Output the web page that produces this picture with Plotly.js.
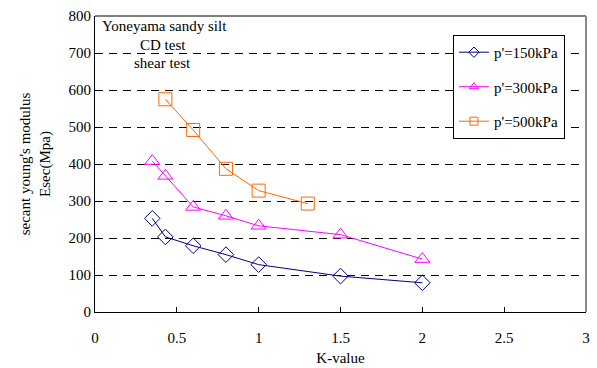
<!DOCTYPE html>
<html><head><meta charset="utf-8">
<script src="https://cdn.plot.ly/plotly-3.0.1.min.js"></script>
<style>html,body{margin:0;padding:0;background:#fff}#c{width:597px;height:368px}</style>
</head><body><div id="c"></div>
<script>
const k150 = [0.35, 0.43, 0.6, 0.8, 1.0, 1.5, 2.0];
const e150 = [253, 203, 179, 155, 128, 97, 79];
const k300 = [0.35, 0.43, 0.6, 0.8, 1.0, 1.5, 2.0];
const e300 = [408, 368, 284, 260, 233, 209, 143];
const k500 = [0.43, 0.6, 0.8, 1.0, 1.3];
const e500 = [575, 492, 387, 328, 293];
const names = ["p'=150kPa", "p'=300kPa", "p'=500kPa"];
const colors = ["#000080", "#FF00FF", "#FF6600"];
const symbols = ["diamond-open", "triangle-up-open", "square-open"];
const xTicks = [0, 0.5, 1, 1.5, 2, 2.5, 3];
const xTickText = ["0", "0.5", "1", "1.5", "2", "2.5", "3"];
const yTicks = [0, 100, 200, 300, 400, 500, 600, 700, 800];

const F = "'Liberation Serif', 'Times New Roman', serif";
const FS = 15;
const xs = [k150, k300, k500], ys = [e150, e300, e500], sizes = [12, 13, 13];
const traces = [];
for (let i = 0; i < 3; i++) {
  traces.push({x: xs[i], y: ys[i], name: names[i], mode: "lines+markers", showlegend: false,
    line: {color: colors[i], width: 1},
    marker: {symbol: symbols[i], size: sizes[i], color: colors[i], line: {width: 1}}});
}
for (let i = 0; i < 3; i++) {
  traces.push({x: [null], y: [null], name: names[i], mode: "lines+markers", legendgroup: "g" + i,
    line: {color: colors[i], width: 1},
    marker: {symbol: symbols[i], size: 8, color: colors[i], line: {width: 1}}});
}
const layout = {
  width: 597, height: 368,
  margin: {l: 95, r: 11, t: 16, b: 56},
  paper_bgcolor: "#fff", plot_bgcolor: "#fff",
  font: {family: F, size: FS, color: "#000"},
  showlegend: true,
  legend: {x: 0.729, y: 0.936, xanchor: "left", yanchor: "top",
    bordercolor: "#000", borderwidth: 1, bgcolor: "#fff",
    font: {family: F, size: FS}, tracegroupgap: 12, itemwidth: 30},
  xaxis: {range: [0, 3], tickvals: xTicks, ticktext: xTickText,
    showgrid: false, zeroline: false, showline: true, linecolor: "#000", linewidth: 1,
    mirror: false, ticks: "inside", ticklen: 5, tickcolor: "#000", ticklabelstandoff: 12,
    title: {text: "K-value", font: {family: F, size: FS}, standoff: 7}},
  yaxis: {range: [0, 800], tickvals: yTicks,
    showgrid: true, gridcolor: "#000", griddash: "8px,6px", gridwidth: 1,
    zeroline: false, showline: true, linecolor: "#000", linewidth: 1,
    ticks: "inside", ticklen: 5, tickcolor: "#000",
    title: {text: "secant young's modulus<br>Esec(Mpa)", font: {family: F, size: FS}, standoff: 14}},
  shapes: [
    {type: "line", xref: "paper", yref: "paper", x0: 0, x1: 1, y0: 1, y1: 1, line: {color: "#000", width: 1}},
    {type: "line", xref: "paper", yref: "paper", x0: 1, x1: 1, y0: 0, y1: 1, line: {color: "#888", width: 2}}
  ],
  annotations: [
    {xref: "paper", yref: "paper", x: 0.01, y: 0.966, xanchor: "left", yanchor: "middle",
     text: "Yoneyama sandy silt", showarrow: false, font: {family: F, size: FS}},
    {xref: "paper", yref: "paper", x: 0.138, y: 0.902, xanchor: "center", yanchor: "middle",
     text: "CD test", showarrow: false, font: {family: F, size: FS}},
    {xref: "paper", yref: "paper", x: 0.138, y: 0.841, xanchor: "center", yanchor: "middle",
     text: "shear test", showarrow: false, font: {family: F, size: FS}}
  ]
};
Plotly.newPlot("c", traces, layout, {displayModeBar: false, staticPlot: true});
</script></body></html>
